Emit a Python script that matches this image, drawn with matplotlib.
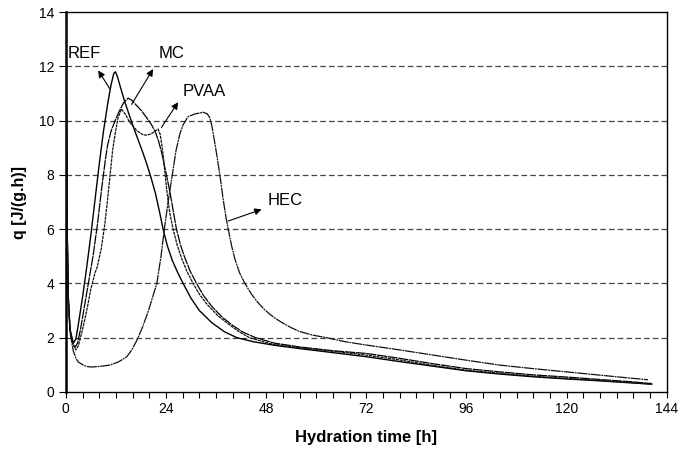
import matplotlib
matplotlib.use("Agg")
import matplotlib.pyplot as plt
from matplotlib.ticker import MultipleLocator

plt.rcParams['font.family'] = ['Liberation Sans', 'DejaVu Sans']

# heat flow q [J/(g.h)] vs hydration time [h]
ref_t = [0, 0.3, 0.6, 1.0, 1.8, 2.4, 3.0, 4.0, 5.0, 6.0, 7.0, 8.0, 9.0, 10.0, 10.8, 11.5, 11.9, 12.4, 12.95, 14.1, 15.1,
         16.1, 17.3, 18.5, 19.5, 20.5, 21.5, 22.5, 23.3, 24.3, 25.5, 26.8, 28.1, 30, 32, 35, 38, 41, 45, 50, 56,
         64, 72, 80, 88, 96, 104, 112, 120, 128, 136, 140.4]
ref_q = [14, 6.0, 3.4, 2.3, 1.8, 1.95, 2.5, 3.5, 4.6, 5.8, 7.1, 8.4, 9.6, 10.6, 11.3, 11.75, 11.8, 11.6, 11.3, 10.7, 10.25,
         9.8, 9.3, 8.8, 8.35, 7.85, 7.3, 6.6, 6.0, 5.4, 4.85, 4.4, 4.0, 3.45, 3.0, 2.55, 2.22, 2.0, 1.85, 1.72, 1.6,
         1.45, 1.3, 1.12, 0.95, 0.78, 0.66, 0.56, 0.48, 0.41, 0.33, 0.29]

mc_t = [0, 0.3, 0.6, 1.0, 1.6, 2.2, 2.8, 3.5, 4.5, 5.5, 6.5, 7.5, 8.5, 9.0, 9.5, 10.0, 10.8, 11.8, 12.8, 13.8, 14.9,
        15.8, 17, 18.2, 19.4, 20.4, 21.4, 22.2, 23, 23.6, 24.1, 24.9, 25.7, 26.5, 27.5, 28.5, 29.8, 31.3, 33, 35,
        37.5, 40, 42.5, 45.5, 50, 56, 64, 72, 80, 88, 96, 104, 112, 120, 128, 136, 140.4]
mc_q = [14, 6.2, 3.4, 2.3, 1.8, 1.65, 1.8, 2.3, 3.2, 4.1, 5.0, 6.1, 7.4, 8.0, 8.6, 9.1, 9.6, 10.0, 10.35, 10.65, 10.83,
        10.75, 10.55, 10.35, 10.1, 9.88, 9.6, 9.25, 8.8, 8.35, 8.0, 7.4, 6.7, 6.0, 5.4, 4.95, 4.45, 4.0, 3.55, 3.15,
        2.75, 2.45, 2.2, 2.0, 1.8, 1.66, 1.52, 1.42, 1.24, 1.04, 0.86, 0.74, 0.63, 0.55, 0.46, 0.37, 0.31]

pvaa_t = [0, 0.3, 0.6, 1.0, 1.6, 2.4, 3.0, 4.0, 5.0, 6.0, 7.0, 7.5, 8.5, 9.35, 10.0, 10.6, 11.2, 11.8, 12.5, 13.3, 14.2,
          15.3, 17, 18.6, 19.6, 20.5, 21.4, 22.1, 22.6, 23.0, 23.4, 23.8, 24.2, 24.9, 25.7, 26.7, 27.8, 29, 30.5, 32,
          34, 36.5, 39, 41.5, 44, 49, 56, 64, 72, 80, 88, 96, 104, 112, 120, 128, 136, 140.4]
pvaa_q = [14, 6.3, 3.5, 2.3, 1.8, 1.55, 1.7, 2.3, 3.0, 3.8, 4.4, 4.6, 5.3, 6.2, 7.1, 8.0, 8.9, 9.5, 10.1, 10.43, 10.25,
          9.94, 9.63, 9.47, 9.47, 9.52, 9.62, 9.69, 9.5, 9.1, 8.6, 8.0, 7.4, 6.6, 6.0, 5.4, 4.9, 4.45, 4.0, 3.6,
          3.2, 2.8, 2.5, 2.22, 2.0, 1.78, 1.63, 1.5, 1.36, 1.18, 0.98, 0.8, 0.69, 0.58, 0.5, 0.42, 0.34, 0.28]

hec_t = [0, 0.3, 0.6, 1.0, 1.8, 2.4, 3.0, 4.2, 5.0, 6.0, 8.0, 10.5, 12.5, 13.6, 14.6, 15.8, 17, 18.4, 19.8, 20.8, 21.8,
         22.8, 23.6, 24.5, 25.5, 26.4, 27.3, 28.1, 29.3, 31, 32.9, 33.9, 34.5, 35, 35.5, 36.1, 36.9, 37.7, 38.3, 38.9,
         39.7, 40.5, 41.6, 42.9, 44.5, 46, 47.5, 49, 50.5, 52.1, 54, 56, 59, 62.5, 67, 72, 80, 88, 96, 104, 112, 120,
         128, 134, 139.5]
hec_q = [14, 6.0, 3.3, 2.2, 1.5, 1.25, 1.1, 0.99, 0.94, 0.92, 0.94, 0.99, 1.1, 1.2, 1.3, 1.55, 1.9, 2.4, 3.0, 3.5, 4.0,
         5.0, 6.0, 7.0, 8.0, 8.9, 9.5, 9.85, 10.15, 10.25, 10.31, 10.25, 10.1, 9.8, 9.35, 8.8, 8.0, 7.1, 6.5, 6.0,
         5.4, 4.9, 4.4, 4.0, 3.6, 3.3, 3.05, 2.85, 2.68, 2.53, 2.37, 2.23, 2.1, 2.0, 1.85, 1.73, 1.55, 1.36, 1.17, 0.99, 0.86, 0.74,
         0.62, 0.53, 0.45]

names = ['REF', 'MC', 'PVAA', 'HEC']
label_pos = [(4.4, 12.47), (25.3, 12.47), (33.1, 11.06), (52.5, 7.04)]
arrow_tail = [(10.55, 11.17), (15.75, 10.6), (22.9, 9.75), (38.9, 6.3)]
arrow_head = [(7.75, 11.85), (20.9, 11.9), (26.9, 10.68), (46.9, 6.73)]

fig = plt.figure(figsize=(6.79, 4.49), dpi=100)
ax = fig.add_axes([0.097, 0.127, 0.885, 0.846])

for y in range(2, 14, 2):
    ax.axhline(y, color='#444444', lw=0.9, dashes=(4.5, 2.5), zorder=1)

ax.plot(ref_t, ref_q, color='black', lw=1.0, zorder=3)
ax.plot(mc_t, mc_q, color='black', lw=0.9, dashes=(8, 0.6), zorder=3)
ax.plot(pvaa_t, pvaa_q, color='#111111', lw=0.9, dashes=(2.5, 0.6), zorder=3)
ax.plot(hec_t, hec_q, color='#111111', lw=0.9, dashes=(8, 0.6, 1.5, 0.6), zorder=3)

for name, lp, tail, head in zip(names, label_pos, arrow_tail, arrow_head):
    ax.text(lp[0], lp[1], name, ha='center', va='center', fontsize=12)
    ax.annotate('', xy=head, xytext=tail,
                arrowprops=dict(arrowstyle='-|>', color='black', lw=0.8,
                                mutation_scale=10, shrinkA=0, shrinkB=0))

ax.set_xlim(0, 144)
ax.set_ylim(0, 14)
ax.xaxis.set_major_locator(MultipleLocator(24))
ax.xaxis.set_minor_locator(MultipleLocator(4))
ax.yaxis.set_major_locator(MultipleLocator(2))
ax.tick_params(axis='both', which='both', direction='out', length=4, width=0.8,
               labelsize=10, colors='black')
ax.tick_params(axis='y', which='major', length=5)

for s in ax.spines.values():
    s.set_linewidth(1.0)
    s.set_color('black')
ax.spines['left'].set_linewidth(1.8)

ax.set_xlabel('Hydration time [h]', fontsize=12, fontweight='bold', labelpad=10)
ax.set_ylabel('q [J/(g.h)]', fontsize=11.5, fontweight='bold', labelpad=8)

fig.savefig('out.png', dpi=100)
